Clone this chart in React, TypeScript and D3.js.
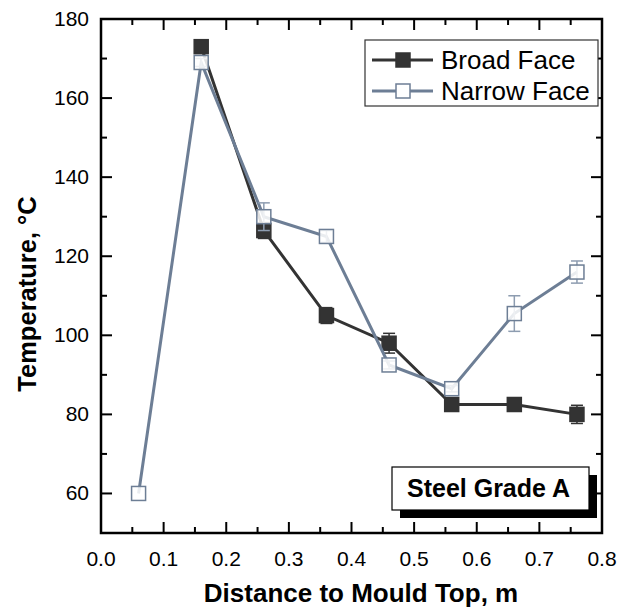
import React, { useEffect, useRef } from 'react';
import * as d3 from 'd3';

const distance = [0.06, 0.16, 0.26, 0.36, 0.46, 0.56, 0.66, 0.76];
// broad face has no reading at 0.06
const broadFace = [null, 173, 126.5, 105, 98, 82.5, 82.5, 80];
const broadErr = [null, 1.5, 2, 2, 2.5, 0.8, 1.5, 2.3];
const narrowFace = [60, 169, 130, 125, 92.5, 86.5, 105.5, 116];
const narrowErr = [0, 1, 3.5, 1.5, 1, 0.8, 4.5, 2.8];

const xTicks = [0, 0.1, 0.2, 0.3, 0.4, 0.5, 0.6, 0.7, 0.8];
const yTicks = [60, 80, 100, 120, 140, 160, 180];

const BROAD = '#333333';
const NARROW = '#6d7e95';
const NARROW_ERR = '#8d9cb0';

const W = 644, H = 610;
const m = { left: 101, right: 42, top: 19, bottom: 77 };

function Chart() {
  const ref = useRef<SVGSVGElement>(null);

  useEffect(() => {
    const svg = d3.select(ref.current);
    svg.selectAll('*').remove();

    const x = d3.scaleLinear().domain([0, 0.8]).range([m.left, W - m.right]);
    const y = d3.scaleLinear().domain([50, 180]).range([H - m.bottom, m.top]);
    const font = 'Liberation Sans, Arial, sans-serif';

    const g = svg.append('g');

    // ticks inside the frame, all four sides
    const minorX = d3.range(0.05, 0.8, 0.1);
    const minorY = d3.range(70, 180, 20);
    const tk = g.append('g').attr('stroke', '#000').attr('stroke-width', 2);
    xTicks.forEach(v => {
      tk.append('line').attr('x1', x(v)).attr('x2', x(v)).attr('y1', y(50)).attr('y2', y(50) - 11);
      tk.append('line').attr('x1', x(v)).attr('x2', x(v)).attr('y1', y(180)).attr('y2', y(180) + 11);
    });
    minorX.forEach(v => {
      tk.append('line').attr('x1', x(v)).attr('x2', x(v)).attr('y1', y(50)).attr('y2', y(50) - 6);
      tk.append('line').attr('x1', x(v)).attr('x2', x(v)).attr('y1', y(180)).attr('y2', y(180) + 6);
    });
    yTicks.forEach(v => {
      tk.append('line').attr('x1', x(0)).attr('x2', x(0) + 11).attr('y1', y(v)).attr('y2', y(v));
      tk.append('line').attr('x1', x(0.8)).attr('x2', x(0.8) - 11).attr('y1', y(v)).attr('y2', y(v));
    });
    minorY.forEach(v => {
      tk.append('line').attr('x1', x(0)).attr('x2', x(0) + 6).attr('y1', y(v)).attr('y2', y(v));
      tk.append('line').attr('x1', x(0.8)).attr('x2', x(0.8) - 6).attr('y1', y(v)).attr('y2', y(v));
    });

    g.append('rect')
      .attr('x', x(0)).attr('y', y(180))
      .attr('width', x(0.8) - x(0)).attr('height', y(50) - y(180))
      .attr('fill', 'none').attr('stroke', '#000').attr('stroke-width', 2.5);

    // tick labels
    g.append('g').selectAll('text').data(xTicks).join('text')
      .attr('x', d => x(d)).attr('y', y(50) + 33)
      .attr('text-anchor', 'middle').attr('font-family', font).attr('font-size', 21)
      .text(d => d.toFixed(1));
    g.append('g').selectAll('text').data(yTicks).join('text')
      .attr('x', x(0) - 12).attr('y', d => y(d) + 7)
      .attr('text-anchor', 'end').attr('font-family', font).attr('font-size', 21)
      .text(d => d);

    g.append('text')
      .attr('x', 361).attr('y', 602)
      .attr('text-anchor', 'middle').attr('font-family', font).attr('font-size', 26)
      .attr('font-weight', 'bold').text('Distance to Mould Top, m');
    g.append('text')
      .attr('transform', `translate(36,294) rotate(-90)`)
      .attr('text-anchor', 'middle').attr('font-family', font).attr('font-size', 25.5)
      .attr('font-weight', 'bold').text('Temperature, °C');

    const series = [
      { vals: broadFace, err: broadErr, color: BROAD, errColor: BROAD, fill: BROAD },
      { vals: narrowFace, err: narrowErr, color: NARROW, errColor: NARROW_ERR, fill: '#fff' },
    ];

    series.forEach(s => {
      const pts = distance.map((d, i) => ({ d, v: s.vals[i], e: s.err[i] }))
        .filter(p => p.v != null) as { d: number; v: number; e: number }[];
      const line = d3.line<{ d: number; v: number }>().x(p => x(p.d)).y(p => y(p.v));
      g.append('path').datum(pts).attr('d', line)
        .attr('fill', 'none').attr('stroke', s.color).attr('stroke-width', 3);

      const eb = g.append('g').attr('stroke', s.errColor).attr('stroke-width', 1.5);
      pts.filter(p => p.e > 0).forEach(p => {
        eb.append('line').attr('x1', x(p.d)).attr('x2', x(p.d)).attr('y1', y(p.v - p.e)).attr('y2', y(p.v + p.e));
        [p.v - p.e, p.v + p.e].forEach(c => {
          eb.append('line').attr('x1', x(p.d) - 6).attr('x2', x(p.d) + 6).attr('y1', y(c)).attr('y2', y(c));
        });
      });

      g.append('g').selectAll('rect').data(pts).join('rect')
        .attr('x', p => x(p.d) - 7).attr('y', p => y(p.v) - 7)
        .attr('width', 14).attr('height', 14)
        .attr('fill', s.fill).attr('fill-opacity', s.fill === '#fff' ? 0.85 : 1)
        .attr('stroke', s.color).attr('stroke-width', 1.5);
    });

    // legend
    const lg = g.append('g');
    lg.append('rect').attr('x', 365).attr('y', 40).attr('width', 233).attr('height', 66)
      .attr('fill', '#fff').attr('stroke', '#333').attr('stroke-width', 1.2);
    [
      { label: 'Broad Face', color: BROAD, fill: BROAD, cy: 60 },
      { label: 'Narrow Face', color: NARROW, fill: '#fff', cy: 91 },
    ].forEach(e => {
      lg.append('line').attr('x1', 372).attr('x2', 433).attr('y1', e.cy).attr('y2', e.cy)
        .attr('stroke', e.color).attr('stroke-width', 3);
      lg.append('rect').attr('x', 396).attr('y', e.cy - 7).attr('width', 14).attr('height', 14)
        .attr('fill', e.fill).attr('stroke', e.color).attr('stroke-width', 1.5);
      lg.append('text').attr('x', 441).attr('y', e.cy + 9)
        .attr('font-family', font).attr('font-size', 26).text(e.label);
    });

    // grade label with drop shadow
    const bx = 392, by = 467, bw = 197, bh = 43;
    g.append('rect').attr('x', bx + 8).attr('y', by + 8).attr('width', bw).attr('height', bh).attr('fill', '#000');
    g.append('rect').attr('x', bx).attr('y', by).attr('width', bw).attr('height', bh)
      .attr('fill', '#fff').attr('stroke', '#000').attr('stroke-width', 1.2);
    g.append('text').attr('x', bx + bw / 2 - 2).attr('y', by + 30)
      .attr('text-anchor', 'middle').attr('font-family', font).attr('font-size', 25)
      .attr('font-weight', 'bold').text('Steel Grade A');
  }, []);

  return (
    <svg ref={ref} width={W} height={H}
      style={{ position: 'absolute', left: 0, top: 0, display: 'block', background: '#fff' }} />
  );
}

export default function App() {
  return <Chart />;
}
